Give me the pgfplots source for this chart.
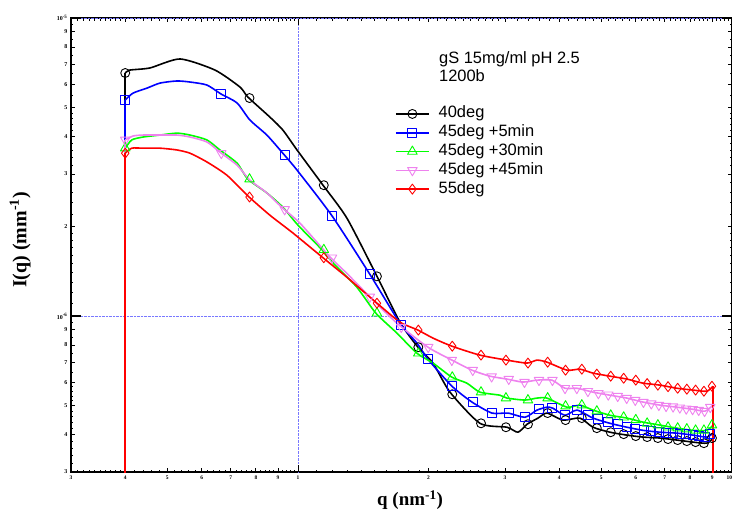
\documentclass[border=0pt]{standalone}
\usepackage{pgfplots}
\pgfplotsset{compat=1.18}
\usepackage{fontspec}
\setmainfont{Liberation Serif}
\newfontfamily\arial{Liberation Sans}
\definecolor{myviolet}{RGB}{238,130,238}
\definecolor{gridblue}{RGB}{120,120,255}
\begin{document}
\begin{tikzpicture}
\begin{axis}[name=ax, scale only axis, width=661bp, height=454bp,
  xmode=log, ymode=log, xmin=0.3, xmax=10, ymin=3e-7, ymax=1e-5,
  axis line style={line width=1.3bp},
  /pgf/number format/assume math mode=true,
  tick style={black, line width=0.8bp},
  major tick length=4bp, minor tick length=2.5bp,
  xtick={0.3,0.4,0.5,0.6,0.7,0.8,0.9,2,3,4,5,6,7,8,9},
  xticklabels={3,4,5,6,7,8,9,2,3,4,5,6,7,8,9},
  minor xtick={0.31,0.32,0.33,0.34,0.35,0.36,0.37,0.38,0.39,0.42,0.44,0.46,0.48,0.52,0.54,0.56,0.58,0.62,0.64,0.66,0.68,0.72,0.74,0.76,0.78,0.82,0.84,0.86,0.88,0.92,0.94,0.96,0.98,1.1,1.2,1.3,1.4,1.5,1.6,1.7,1.8,1.9,2.1,2.2,2.3,2.4,2.5,2.6,2.7,2.8,2.9,3.2,3.4,3.6,3.8,4.2,4.4,4.6,4.8,5.2,5.4,5.6,5.8,6.2,6.4,6.6,6.8,7.2,7.4,7.6,7.8,8.2,8.4,8.6,8.8,9.2,9.4,9.6,9.8},
  extra x ticks={1,10}, extra x tick labels={1,\llap{10}},
  extra x tick style={grid=major, major grid style={gridblue, densely dotted, line width=0.8bp},
    major tick length=7bp, tick label style={font=\fontsize{7.5}{8}\selectfont\bfseries}},
  ytick={3e-7,4e-7,5e-7,6e-7,7e-7,8e-7,9e-7,2e-6,3e-6,4e-6,5e-6,6e-6,7e-6,8e-6,9e-6},
  yticklabels={3,4,5,6,7,8,9,2,3,4,5,6,7,8,9},
  minor ytick={3.2e-7,3.4e-7,3.6e-7,3.8e-7,4.2e-7,4.4e-7,4.6e-7,4.8e-7,5.2e-7,5.4e-7,5.6e-7,5.8e-7,6.5e-7,7.5e-7,8.5e-7,9.5e-7,1.1e-6,1.2e-6,1.3e-6,1.4e-6,1.5e-6,1.6e-6,1.7e-6,1.8e-6,1.9e-6,2.2e-6,2.4e-6,2.6e-6,2.8e-6,3.2e-6,3.4e-6,3.6e-6,3.8e-6,4.2e-6,4.4e-6,4.6e-6,4.8e-6,5.5e-6,6.5e-6,7.5e-6,8.5e-6,9.5e-6},
  extra y ticks={1e-6,1e-5}, extra y tick labels={10\textsuperscript{-6},10\textsuperscript{-5}},
  extra y tick style={grid=major, major grid style={gridblue, densely dotted, line width=0.8bp},
    major tick length=10bp, tick style={line width=1.8bp}, tick label style={font=\fontsize{8.5}{9}\selectfont\bfseries}},
  xticklabel style={font=\fontsize{5.5}{6}\selectfont\bfseries},
  yticklabel style={font=\fontsize{6}{6}\selectfont\bfseries},
  xlabel={\textbf{q (nm\textsuperscript{-1})}},
  ylabel={\textbf{I(q) (mm\textsuperscript{-1})}},
  xlabel style={font=\fontsize{19}{20}\selectfont, at={(rel axis cs:0.513,-0.062)}, anchor=center},
  ylabel style={font=\fontsize{20}{21}\selectfont, at={(rel axis cs:-0.077,0.511)}, anchor=center},
  legend style={at={(rel axis cs:0.490,0.809)}, anchor=north west, draw=none, fill=none,
    inner sep=0pt, font=\arial\fontsize{16.5}{18}\selectfont, row sep=0.8bp,
    nodes={inner sep=1bp, text height=12bp, text depth=4bp},
    /tikz/every odd column/.append style={column sep=8bp}},
  legend cell align=left,
  legend image code/.code={\draw[#1,mark repeat=2,mark phase=2] plot coordinates {(0bp,0bp) (16.5bp,0bp) (33bp,0bp)};},
  every axis plot/.append style={line join=round},
]
% black 40deg
\addplot[black, line width=1.6bp, forget plot] coordinates {(0.4,1e-7) (0.4,6.54e-6)};
\addplot[black, line width=1.6bp, smooth, tension=0.4, forget plot] coordinates {(0.4,6.54e-6) (0.41,6.69e-6) (0.456,6.80e-6) (0.535,7.29e-6) (0.644,6.69e-6) (0.735,5.87e-6) (0.767,5.43e-6) (0.862,4.65e-6) (0.923,4.21e-6) (0.995,3.61e-6) (1.142,2.75e-6) (1.297,2.13e-6) (1.521,1.36e-6) (1.718,9.55e-7) (1.89,7.87e-7) (2.047,6.96e-7) (2.24,5.56e-7) (2.626,4.37e-7) (3.031,4.24e-7) (3.213,4.08e-7) (3.372,4.34e-7) (3.573,4.55e-7) (3.748,4.73e-7) (4.08,4.48e-7) (4.465,4.55e-7) (4.783,4.24e-7) (5.236,4.08e-7) (5.729,3.99e-7) (6.236,3.93e-7) (6.825,3.90e-7) (7.47,3.84e-7) (8.13,3.78e-7) (8.75,3.75e-7) (9.04,3.90e-7)};
\addplot[black, line width=1.6bp, forget plot] coordinates {(9.04,3.90e-7) (9.04,1e-7)};
\addplot[black, only marks, mark=o, mark size=4.5bp, mark options={line width=0.9bp}, forget plot] coordinates {(0.4,6.54e-6) (0.7735,5.39e-6) (1.147,2.75e-6) (1.5205,1.36e-6) (1.894,7.87e-7) (2.2675,5.47e-7) (2.641,4.37e-7) (3.0145,4.24e-7) (3.388,4.34e-7) (3.7615,4.73e-7) (4.135,4.48e-7) (4.5085,4.55e-7) (4.882,4.21e-7) (5.2555,4.08e-7) (5.629,4.02e-7) (6.0025,3.96e-7) (6.376,3.93e-7) (6.7495,3.90e-7) (7.123,3.87e-7) (7.4965,3.84e-7) (7.87,3.81e-7) (8.2435,3.78e-7) (8.617,3.75e-7) (8.9905,3.90e-7)};
% blue 45deg +5min
\addplot[blue, line width=1.6bp, forget plot] coordinates {(0.4,1e-7) (0.4,5.31e-6)};
\addplot[blue, line width=1.6bp, smooth, tension=0.4, forget plot] coordinates {(0.4,5.31e-6) (0.417,5.60e-6) (0.449,5.82e-6) (0.481,6.05e-6) (0.526,6.15e-6) (0.564,6.10e-6) (0.617,5.96e-6) (0.665,5.56e-6) (0.724,5.19e-6) (0.775,4.55e-6) (0.848,4.05e-6) (0.923,3.52e-6) (0.995,3.09e-6) (1.198,2.17e-6) (1.465,1.38e-6) (1.718,9.47e-7) (1.88,8.12e-7) (1.993,7.17e-7) (2.264,5.82e-7) (2.517,5.15e-7) (2.799,4.73e-7) (3.048,4.73e-7) (3.334,4.58e-7) (3.554,4.84e-7) (3.748,4.95e-7) (3.869,4.91e-7) (4.122,4.65e-7) (4.395,4.84e-7) (4.783,4.55e-7) (5.236,4.37e-7) (5.729,4.24e-7) (6.236,4.14e-7) (6.825,4.08e-7) (7.47,4.05e-7) (8.13,3.99e-7) (8.75,3.93e-7) (9.04,4.05e-7)};
\addplot[blue, line width=1.6bp, forget plot] coordinates {(9.04,4.05e-7) (9.04,1e-7)};
\addplot[blue, only marks, mark=square, mark size=4.5bp, mark options={line width=0.9bp}, forget plot] coordinates {(0.4,5.31e-6) (0.666,5.56e-6) (0.932,3.47e-6) (1.198,2.17e-6) (1.464,1.38e-6) (1.730,9.33e-7) (1.996,7.17e-7) (2.262,5.82e-7) (2.528,5.15e-7) (2.794,4.73e-7) (3.060,4.73e-7) (3.326,4.58e-7) (3.592,4.87e-7) (3.858,4.91e-7) (4.124,4.65e-7) (4.390,4.84e-7) (4.656,4.65e-7) (4.922,4.51e-7) (5.188,4.41e-7) (5.454,4.34e-7) (5.720,4.24e-7) (5.986,4.19e-7) (6.252,4.14e-7) (6.518,4.11e-7) (6.784,4.08e-7) (7.050,4.06e-7) (7.316,4.05e-7) (7.582,4.03e-7) (7.848,4.02e-7) (8.114,3.99e-7) (8.380,3.96e-7) (8.646,3.93e-7) (8.912,4.02e-7)};
% green 45deg +30min
\addplot[green, line width=1.6bp, forget plot] coordinates {(0.4,1e-7) (0.4,3.66e-6)};
\addplot[green, line width=1.6bp, smooth, tension=0.4, forget plot] coordinates {(0.4,3.66e-6) (0.414,3.90e-6) (0.44,3.99e-6) (0.481,4.05e-6) (0.526,4.11e-6) (0.564,4.05e-6) (0.617,3.90e-6) (0.661,3.61e-6) (0.724,3.26e-6) (0.767,2.88e-6) (0.848,2.59e-6) (0.923,2.32e-6) (1.0,2.02e-6) (1.136,1.67e-6) (1.204,1.51e-6) (1.367,1.25e-6) (1.512,1.023e-6) (1.691,8.77e-7) (1.88,7.51e-7) (2.047,6.96e-7) (2.264,6.24e-7) (2.45,5.96e-7) (2.626,5.56e-7) (2.919,5.43e-7) (3.031,5.31e-7) (3.334,5.23e-7) (3.554,5.31e-7) (3.748,5.31e-7) (4.168,4.95e-7) (4.465,5.03e-7) (4.783,4.84e-7) (5.236,4.65e-7) (5.729,4.55e-7) (6.236,4.41e-7) (6.825,4.31e-7) (7.47,4.21e-7) (8.13,4.14e-7) (8.75,4.14e-7) (9.04,4.31e-7)};
\addplot[green, line width=1.6bp, forget plot] coordinates {(9.04,4.31e-7) (9.04,1e-7)};
\addplot[green, only marks, mark=triangle, mark size=5.5bp, mark options={line width=0.9bp}, forget plot] coordinates {(0.4,3.66e-6) (0.7735,2.88e-6) (1.147,1.67e-6) (1.5205,1.023e-6) (1.894,7.51e-7) (2.2675,6.24e-7) (2.641,5.56e-7) (3.0145,5.31e-7) (3.388,5.23e-7) (3.7615,5.31e-7) (4.135,4.99e-7) (4.5085,5.03e-7) (4.882,4.80e-7) (5.2555,4.65e-7) (5.629,4.58e-7) (6.0025,4.49e-7) (6.376,4.37e-7) (6.7495,4.31e-7) (7.123,4.24e-7) (7.4965,4.21e-7) (7.87,4.18e-7) (8.2435,4.14e-7) (8.617,4.14e-7) (8.9905,4.31e-7)};
% violet 45deg +45min
\addplot[myviolet, line width=1.6bp, forget plot] coordinates {(0.4,1e-7) (0.4,3.90e-6)};
\addplot[myviolet, line width=1.6bp, smooth, tension=0.4, forget plot] coordinates {(0.4,3.90e-6) (0.417,4.02e-6) (0.44,4.05e-6) (0.481,4.05e-6) (0.526,4.05e-6) (0.564,3.99e-6) (0.617,3.84e-6) (0.661,3.55e-6) (0.724,3.21e-6) (0.775,2.86e-6) (0.848,2.59e-6) (0.923,2.30e-6) (1.011,2.05e-6) (1.185,1.58e-6) (1.297,1.39e-6) (1.465,1.16e-6) (1.691,9.47e-7) (1.993,7.87e-7) (2.264,7.12e-7) (2.517,6.59e-7) (2.77,6.29e-7) (3.031,6.15e-7) (3.299,6.01e-7) (3.554,6.10e-7) (3.849,6.10e-7) (4.122,5.73e-7) (4.395,5.73e-7) (4.783,5.56e-7) (5.236,5.43e-7) (5.729,5.31e-7) (6.236,5.15e-7) (6.825,5.03e-7) (7.47,4.95e-7) (8.13,4.87e-7) (8.67,4.80e-7) (9.04,5.03e-7)};
\addplot[myviolet, line width=1.6bp, forget plot] coordinates {(9.04,5.03e-7) (9.04,1e-7)};
\addplot[myviolet, only marks, mark=triangle, mark size=5.5bp, mark options={line width=0.9bp, rotate=180}, forget plot] coordinates {(0.4,3.90e-6) (0.666,3.52e-6) (0.932,2.28e-6) (1.198,1.57e-6) (1.464,1.16e-6) (1.730,9.19e-7) (1.996,7.87e-7) (2.262,7.12e-7) (2.528,6.59e-7) (2.794,6.27e-7) (3.060,6.15e-7) (3.326,6.01e-7) (3.592,6.10e-7) (3.858,6.10e-7) (4.124,5.73e-7) (4.390,5.73e-7) (4.656,5.60e-7) (4.922,5.51e-7) (5.188,5.45e-7) (5.454,5.39e-7) (5.720,5.31e-7) (5.986,5.23e-7) (6.252,5.15e-7) (6.518,5.09e-7) (6.784,5.03e-7) (7.050,4.99e-7) (7.316,4.97e-7) (7.582,4.93e-7) (7.848,4.89e-7) (8.114,4.87e-7) (8.380,4.84e-7) (8.646,4.80e-7) (8.912,4.95e-7)};
% red 55deg
\addplot[red, line width=1.8bp, forget plot] coordinates {(0.4,1e-7) (0.4,3.52e-6)};
\addplot[red, line width=1.6bp, smooth, tension=0.4, forget plot] coordinates {(0.4,3.52e-6) (0.414,3.66e-6) (0.44,3.66e-6) (0.481,3.66e-6) (0.526,3.61e-6) (0.564,3.52e-6) (0.617,3.29e-6) (0.686,2.97e-6) (0.767,2.53e-6) (0.862,2.18e-6) (0.974,1.90e-6) (1.142,1.57e-6) (1.297,1.35e-6) (1.521,1.105e-6) (1.718,9.55e-7) (1.89,8.98e-7) (2.047,8.44e-7) (2.264,7.93e-7) (2.626,7.40e-7) (3.031,7.12e-7) (3.372,6.96e-7) (3.554,7.12e-7) (3.748,7.01e-7) (4.168,6.59e-7) (4.465,6.64e-7) (4.783,6.44e-7) (5.236,6.29e-7) (5.729,6.15e-7) (6.236,5.96e-7) (6.825,5.87e-7) (7.47,5.73e-7) (8.13,5.65e-7) (8.75,5.60e-7) (9.04,5.82e-7)};
\addplot[red, line width=1.8bp, forget plot] coordinates {(9.04,5.82e-7) (9.04,1e-7)};
\addplot[red, only marks, mark=diamond, mark size=5bp, mark options={line width=0.9bp}, forget plot] coordinates {(0.4,3.52e-6) (0.7735,2.51e-6) (1.147,1.57e-6) (1.5205,1.105e-6) (1.894,8.98e-7) (2.2675,7.93e-7) (2.641,7.40e-7) (3.0145,7.12e-7) (3.388,6.96e-7) (3.7615,7.01e-7) (4.135,6.59e-7) (4.5085,6.64e-7) (4.882,6.39e-7) (5.2555,6.29e-7) (5.629,6.19e-7) (6.0025,6.10e-7) (6.376,5.94e-7) (6.7495,5.87e-7) (7.123,5.80e-7) (7.4965,5.73e-7) (7.87,5.69e-7) (8.2435,5.65e-7) (8.617,5.60e-7) (8.9905,5.82e-7)};
% legend
\addlegendimage{black, line width=1.6bp, mark=o, mark size=4.5bp, mark options={line width=0.9bp}}
\addlegendentry{40deg}
\addlegendimage{blue, line width=1.6bp, mark=square, mark size=4.5bp, mark options={line width=0.9bp}}
\addlegendentry{45deg +5min}
\addlegendimage{green, line width=1.6bp, mark=triangle, mark size=5.5bp, mark options={line width=0.9bp}}
\addlegendentry{45deg +30min}
\addlegendimage{myviolet, line width=1.6bp, mark=triangle, mark size=5.5bp, mark options={line width=0.9bp, rotate=180}}
\addlegendentry{45deg +45min}
\addlegendimage{red, line width=1.6bp, mark=diamond, mark size=5bp, mark options={line width=0.9bp}}
\addlegendentry{55deg}
\node[anchor=base west, inner sep=0pt, font=\arial\fontsize{16.5}{18}\selectfont] at (rel axis cs:0.5567,0.9) {gS 15mg/ml pH 2.5};
\node[anchor=base west, inner sep=0pt, font=\arial\fontsize{16.5}{18}\selectfont] at (rel axis cs:0.5567,0.861) {1200b};
\end{axis}
\pgfresetboundingbox
\useasboundingbox ([shift={(-71bp,-41bp)}]ax.south west) rectangle ([shift={(0bp,18bp)}]ax.north east);
\end{tikzpicture}
\end{document}
